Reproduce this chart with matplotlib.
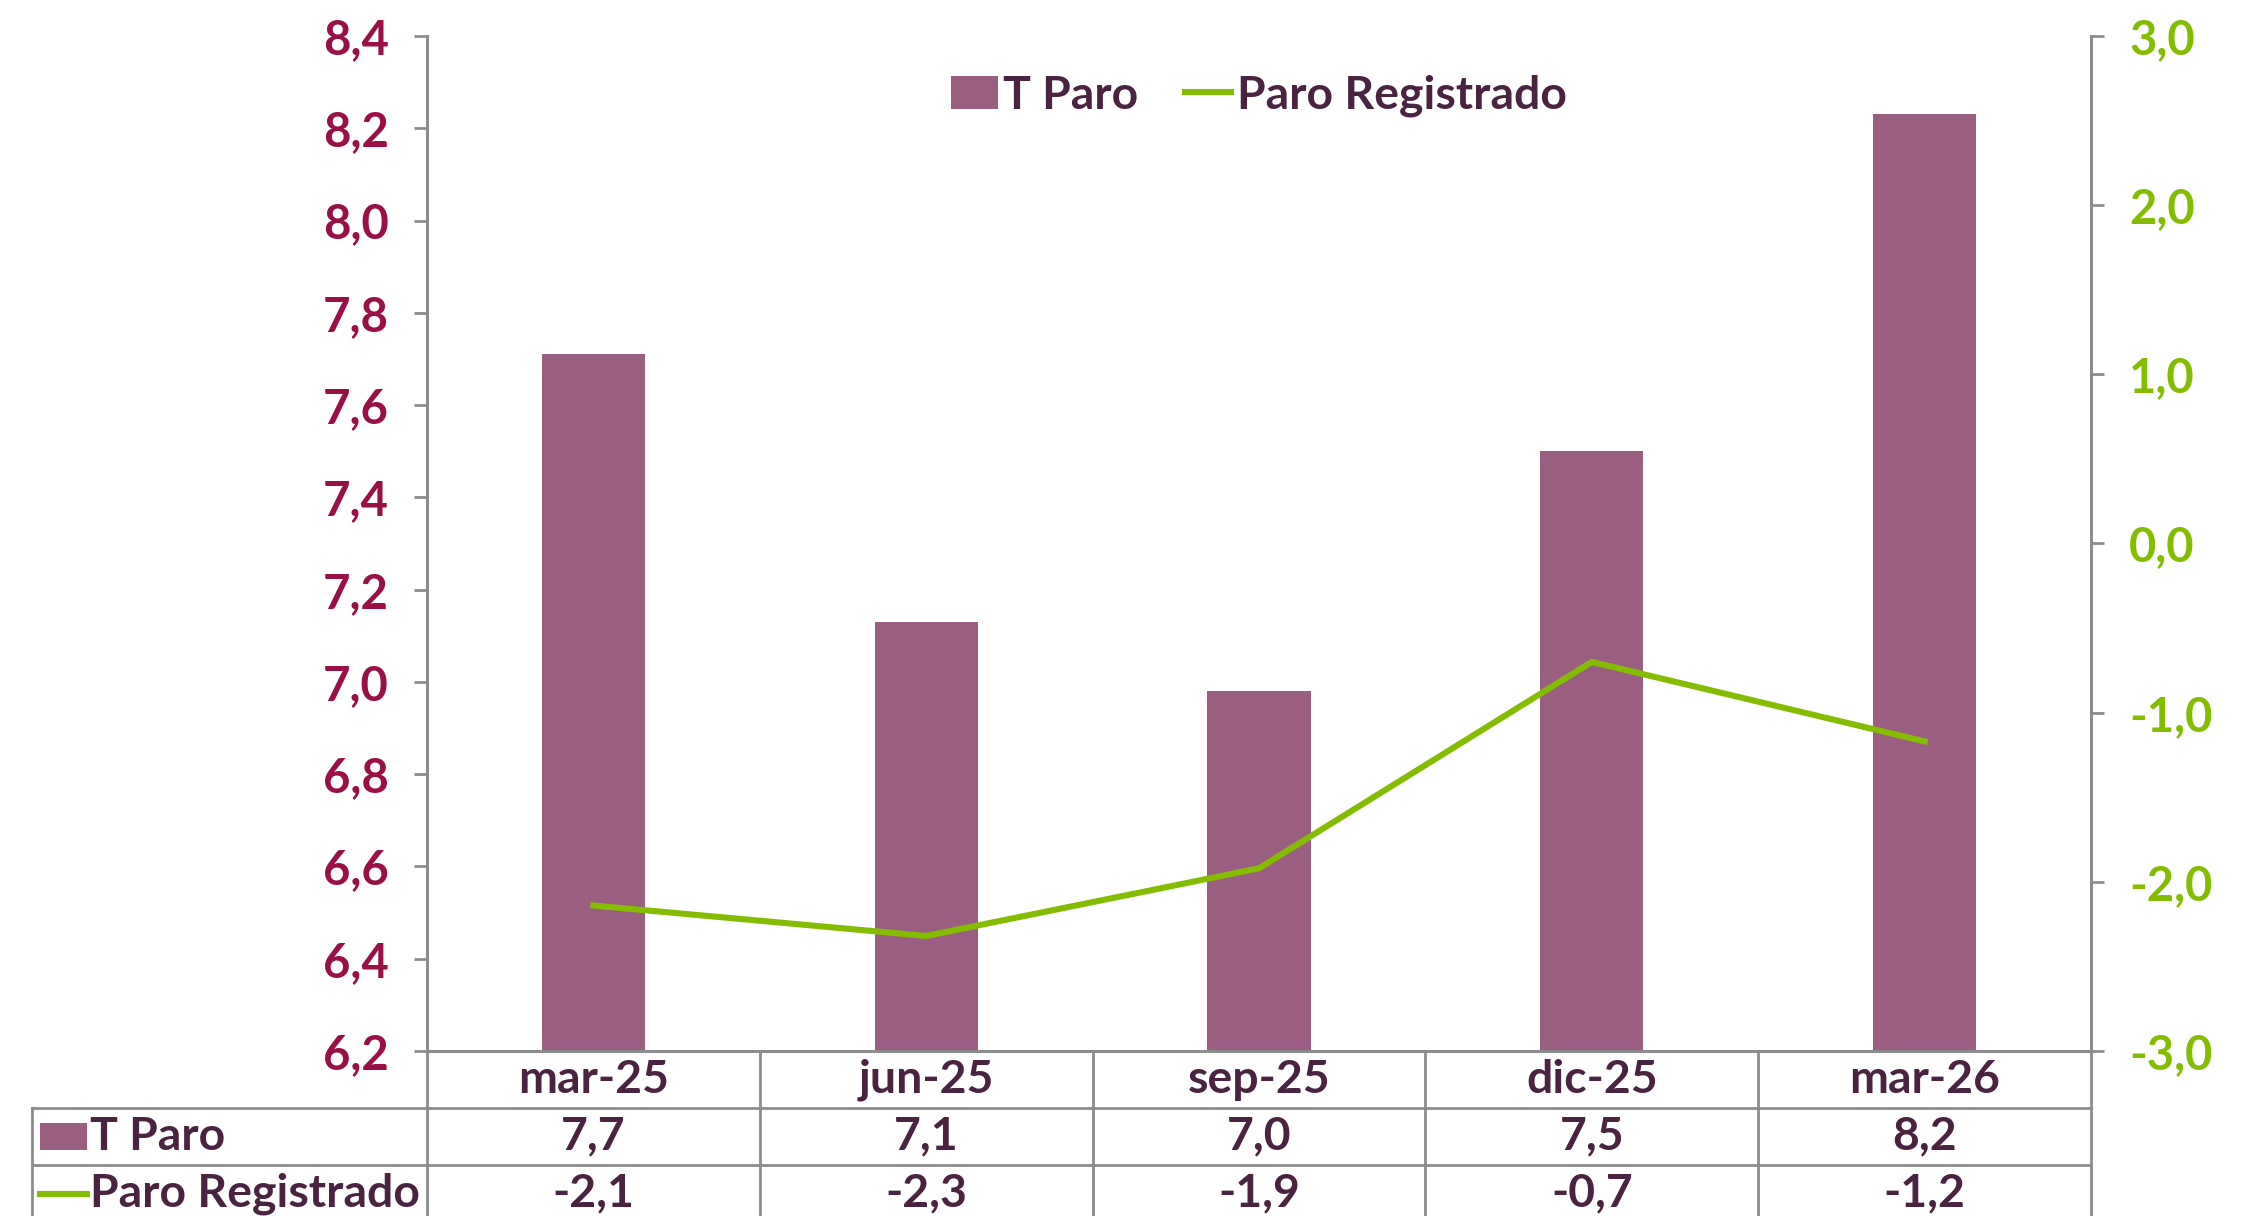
import matplotlib.pyplot as plt
from matplotlib.lines import Line2D
from matplotlib.patches import Patch, Rectangle

categories = ["mar-25", "jun-25", "sep-25", "dic-25", "mar-26"]
t_paro = [7.71, 7.13, 6.98, 7.50, 8.23]
paro_registrado = [-2.14, -2.32, -1.92, -0.70, -1.17]
left_ticks = [6.2, 6.4, 6.6, 6.8, 7.0, 7.2, 7.4, 7.6, 7.8, 8.0, 8.2, 8.4]
right_ticks = [-3.0, -2.0, -1.0, 0.0, 1.0, 2.0, 3.0]

BAR = "#9A5F80"
GREEN = "#84BD00"
CRIMSON = "#9A1046"
TEXT = "#4A2340"
GRID = "#8C8C8C"

plt.rcParams["font.family"] = ["Lato", "DejaVu Sans"]
plt.rcParams["font.weight"] = "bold"


def fmt(v):
    return ("%.1f" % v).replace(".", ",")


fig = plt.figure(figsize=(11.32, 6.08), dpi=200)
ax = fig.add_axes([0.1886, 0.1357, 0.735, 0.8347])
ax2 = ax.twinx()

x = list(range(len(categories)))
ax.bar(x, t_paro, width=0.31, color=BAR, zorder=2)
ax2.plot(x, paro_registrado, color=GREEN, lw=2.2, zorder=3)

ax.set_xlim(-0.5, len(categories) - 0.5)
ax.set_ylim(6.2, 8.4)
ax2.set_ylim(-3.0, 3.0)
ax.set_yticks(left_ticks)
ax.set_yticklabels([fmt(v) for v in left_ticks])
ax2.set_yticks(right_ticks)
ax2.set_yticklabels([fmt(v) for v in right_ticks])
ax.set_xticks([])

for a in (ax, ax2):
    for s in a.spines.values():
        s.set_color(GRID)
        s.set_linewidth(1.0)
    a.spines["top"].set_visible(False)
ax.tick_params(axis="y", direction="out", length=4.7, width=1.0, color=GRID,
               labelcolor=CRIMSON, labelsize=17, pad=9)
ax2.tick_params(axis="y", direction="out", length=4.7, width=1.0, color=GRID,
                labelcolor=GREEN, labelsize=17, pad=9)
for lbl in ax.get_yticklabels() + ax2.get_yticklabels():
    lbl.set_fontweight("bold")

FS = 16.7

# legend
handles = [Patch(facecolor=BAR, edgecolor="none"),
           Line2D([0], [0], color=GREEN, lw=2.2)]
leg = ax.legend(handles, ["T Paro", "Paro Registrado"], loc="upper center",
                bbox_to_anchor=(0.5, 1.003), ncol=2, frameon=False,
                fontsize=FS, handlelength=1.0, handletextpad=0.12,
                columnspacing=1.0)
for t in leg.get_texts():
    t.set_color(TEXT)
    t.set_fontweight("bold")

# data table below the axes
row_h = 0.0562
tr = ax.get_xaxis_transform()
left_edge = -0.5 - 395 / 333.0
rows = [("T Paro", t_paro), ("Paro Registrado", paro_registrado)]

# horizontal lines
for i in range(1, 3):
    y = -row_h * i
    ax.plot([left_edge, 4.5], [y, y], transform=tr, color=GRID, lw=1.0,
            clip_on=False)
# vertical lines
for b in [-0.5 + k for k in range(len(categories) + 1)]:
    ax.plot([b, b], [0, -row_h * 3.2], transform=tr, color=GRID, lw=1.0,
            clip_on=False)
ax.plot([left_edge, left_edge], [-row_h, -row_h * 3.2], transform=tr,
        color=GRID, lw=1.0, clip_on=False)

for i, c in enumerate(categories):
    ax.text(i, -row_h * 0.5, c, transform=tr, ha="center", va="center",
            fontsize=FS, color=TEXT, fontweight="bold")
for r, (name, vals) in enumerate(rows):
    yc = -row_h * (r + 1.5)
    for i, v in enumerate(vals):
        ax.text(i, yc, fmt(v), transform=tr, ha="center", va="center",
                fontsize=FS, color=TEXT, fontweight="bold")
    ax.text(left_edge + 58 / 333.0, yc, name, transform=tr, ha="left",
            va="center", fontsize=FS, color=TEXT, fontweight="bold")

# legend keys inside the table
kx0 = left_edge + 8 / 333.0
kx1 = left_edge + 55 / 333.0
ax.add_patch(Rectangle((kx0, -row_h * 1.5 - 0.0135), kx1 - kx0, 0.027,
                       transform=tr, facecolor=BAR, edgecolor="none",
                       clip_on=False))
ax.plot([kx0, kx1], [-row_h * 2.5, -row_h * 2.5], transform=tr, color=GREEN,
        lw=2.2, clip_on=False)

fig.savefig("out.png", dpi=200)
